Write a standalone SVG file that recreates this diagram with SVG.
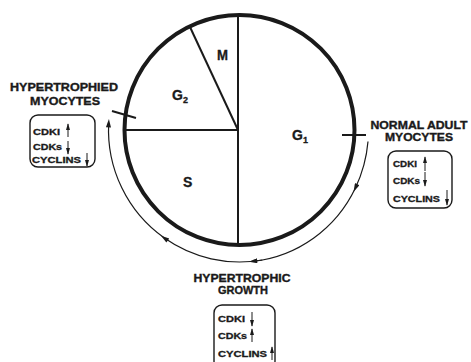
<svg xmlns="http://www.w3.org/2000/svg" width="471" height="362" viewBox="0 0 471 362">
<defs>
<style>
.lbl{font-family:"Liberation Sans",Arial,sans-serif;font-weight:bold;font-size:10.5px;fill:#1a1a1a;stroke:#1a1a1a;stroke-width:0.35;text-anchor:middle}
.bx{font-family:"Liberation Sans",Arial,sans-serif;font-weight:bold;font-size:8.5px;fill:#1a1a1a;stroke:#1a1a1a;stroke-width:0.3}
.ph{font-family:"Liberation Sans",Arial,sans-serif;font-weight:bold;font-size:14px;fill:#1a1a1a;stroke:#1a1a1a;stroke-width:0.3}
.sub{font-size:9px}
.box{fill:none;stroke:#1a1a1a;stroke-width:1.4}
.ar{stroke:#1a1a1a;stroke-width:1;fill:none;marker-end:url(#ah)}
.arc{stroke:#1a1a1a;stroke-width:1.2;fill:none;marker-mid:url(#ah2);marker-end:url(#ah2)}
</style>
<marker id="ah" viewBox="0 0 10 6" refX="9" refY="3" markerWidth="7" markerHeight="4.5" markerUnits="userSpaceOnUse" orient="auto"><path d="M0,0 L10,3 L0,6 Z" fill="#1a1a1a"/></marker>
<marker id="ah2" viewBox="0 0 10 6" refX="5" refY="3" markerWidth="10" markerHeight="5" markerUnits="userSpaceOnUse" orient="auto"><path d="M0,0 L10,3 L0,6 Z" fill="#1a1a1a"/></marker>
</defs>
<rect width="471" height="362" fill="#ffffff"/>

<g id="cycle">
<circle cx="239.5" cy="130" r="115" fill="none" stroke="#1a1a1a" stroke-width="4"/>
<line x1="238" y1="14" x2="238" y2="246" stroke="#1a1a1a" stroke-width="2"/>
<line x1="124" y1="130" x2="238" y2="130" stroke="#1a1a1a" stroke-width="1.8"/>
<line x1="238" y1="130" x2="190" y2="27" stroke="#1a1a1a" stroke-width="2"/>
<line x1="112" y1="111" x2="136" y2="118" stroke="#1a1a1a" stroke-width="2"/>
<line x1="342" y1="135" x2="366" y2="135" stroke="#1a1a1a" stroke-width="2"/>
</g>

<g id="phase-M"><text class="ph" x="217" y="60" textLength="11" lengthAdjust="spacingAndGlyphs">M</text></g>
<g id="phase-G2"><text class="ph" x="172" y="100">G<tspan class="sub" dy="3">2</tspan></text></g>
<g id="phase-G1"><text class="ph" x="292" y="140">G<tspan class="sub" dy="3">1</tspan></text></g>
<g id="phase-S"><text class="ph" x="183" y="187">S</text></g>

<g id="connectors">
<path class="arc" d="M368,141.5 A129,132 0 0 1 355.4,187.9 A129,132 0 0 1 253,261.3"/>
<path class="arc" d="M262.2,260 A131,132 0 0 1 164.4,238.1 A131,132 0 0 1 108.7,123.1"/>
</g>

<g id="hypertrophied-myocytes">
<text class="lbl" x="64" y="91" textLength="108" lengthAdjust="spacingAndGlyphs">HYPERTROPHIED</text>
<text class="lbl" x="65" y="105" textLength="70" lengthAdjust="spacingAndGlyphs">MYOCYTES</text>
<rect class="box" x="30" y="115" width="65" height="52" rx="8"/>
<text class="bx" x="33" y="135" textLength="27" lengthAdjust="spacingAndGlyphs">CDKI</text>
<text class="bx" x="33" y="150" textLength="29" lengthAdjust="spacingAndGlyphs">CDKs</text>
<text class="bx" x="32" y="163" textLength="49" lengthAdjust="spacingAndGlyphs">CYCLINS</text>
<line class="ar" x1="68" y1="137" x2="68" y2="124"/>
<line class="ar" x1="68" y1="141" x2="68" y2="154"/>
<line class="ar" x1="87" y1="153" x2="87" y2="166"/>
</g>

<g id="normal-adult-myocytes">
<text class="lbl" x="419" y="129" textLength="97" lengthAdjust="spacingAndGlyphs">NORMAL ADULT</text>
<text class="lbl" x="419" y="141" textLength="68" lengthAdjust="spacingAndGlyphs">MYOCYTES</text>
<rect class="box" x="388" y="151" width="64" height="57" rx="8"/>
<text class="bx" x="393" y="167" textLength="24" lengthAdjust="spacingAndGlyphs">CDKI</text>
<text class="bx" x="393" y="184" textLength="27" lengthAdjust="spacingAndGlyphs">CDKs</text>
<text class="bx" x="393" y="202" textLength="47" lengthAdjust="spacingAndGlyphs">CYCLINS</text>
<line class="ar" x1="425" y1="171" x2="425" y2="157"/>
<line class="ar" x1="425" y1="172" x2="425" y2="186"/>
<line class="ar" x1="447" y1="190" x2="447" y2="205"/>
</g>

<g id="hypertrophic-growth">
<text class="lbl" x="242" y="282" textLength="97" lengthAdjust="spacingAndGlyphs">HYPERTROPHIC</text>
<text class="lbl" x="243" y="294" textLength="50" lengthAdjust="spacingAndGlyphs">GROWTH</text>
<rect class="box" x="214" y="305" width="61" height="64" rx="8"/>
<text class="bx" x="218" y="322" textLength="27" lengthAdjust="spacingAndGlyphs">CDKI</text>
<text class="bx" x="218" y="339" textLength="29" lengthAdjust="spacingAndGlyphs">CDKs</text>
<text class="bx" x="218" y="357" textLength="49" lengthAdjust="spacingAndGlyphs">CYCLINS</text>
<line class="ar" x1="252" y1="312" x2="252" y2="326"/>
<line class="ar" x1="252" y1="342" x2="252" y2="329"/>
<line class="ar" x1="272" y1="360" x2="272" y2="347"/>
</g>
</svg>
